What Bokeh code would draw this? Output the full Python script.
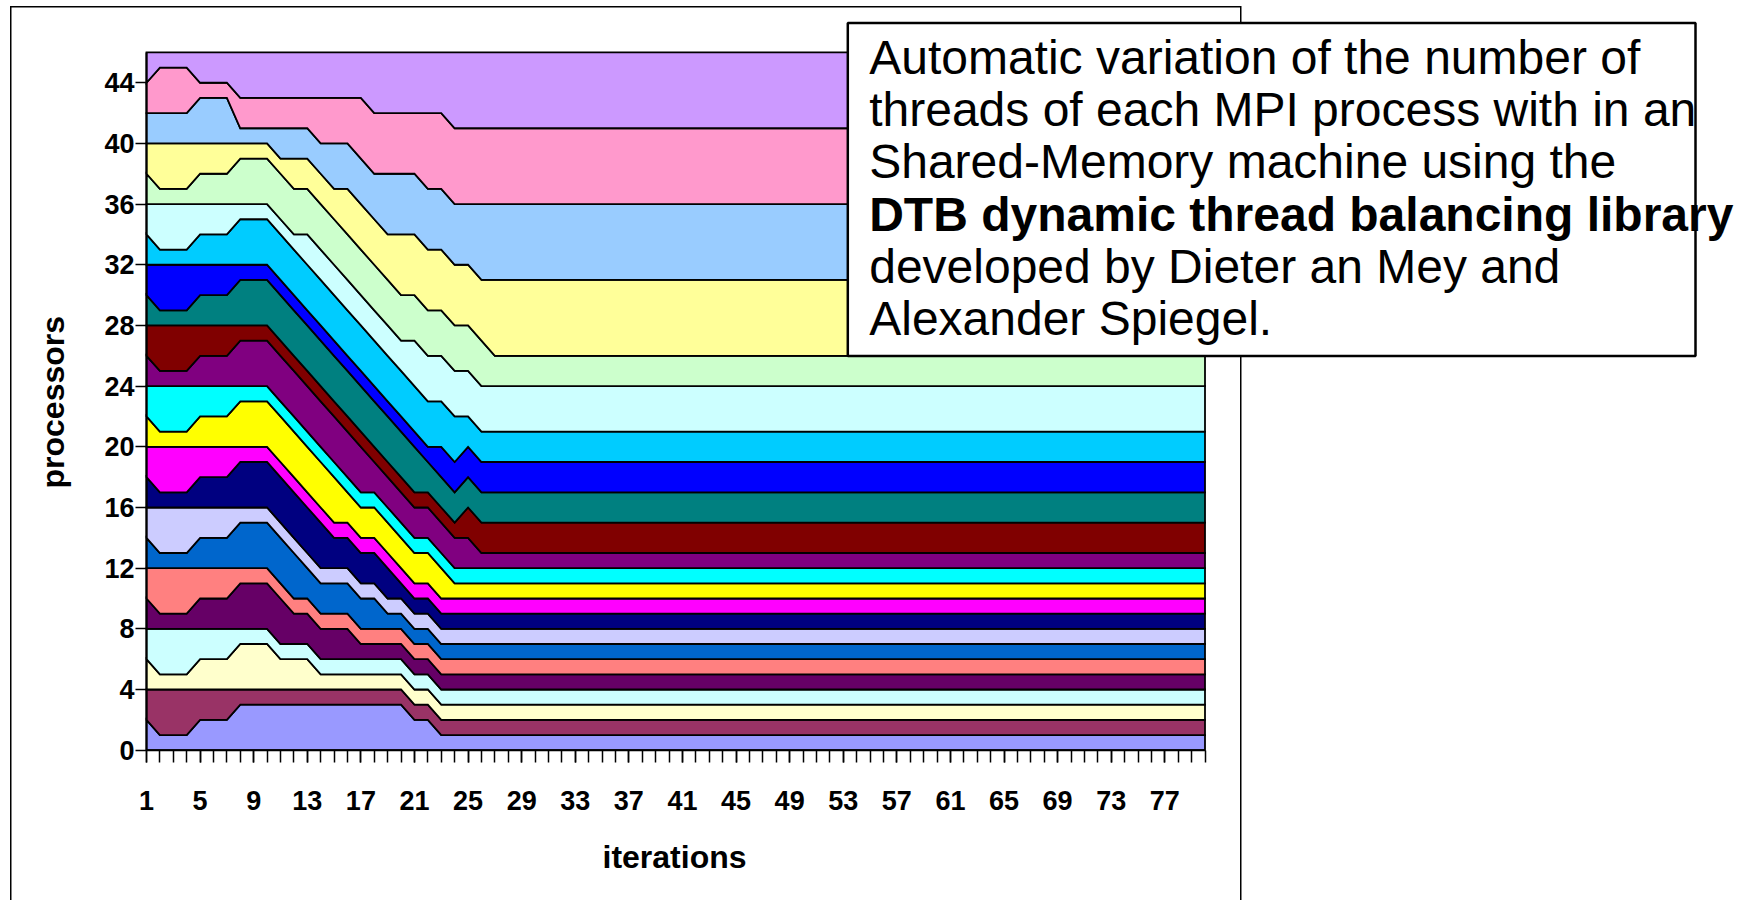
import numpy as np
from bokeh.plotting import figure
from bokeh.models import Range1d, FixedTicker, BoxAnnotation, Label, Title
from bokeh.embed import file_html
from bokeh.resources import INLINE

# ---------------- data ----------------
iterations = list(range(1, 81))
x_tick_labels = [1, 5, 9, 13, 17, 21, 25, 29, 33, 37, 41, 45, 49, 53, 57, 61, 65, 69, 73, 77]
y_ticks = [0, 4, 8, 12, 16, 20, 24, 28, 32, 36, 40, 44]
y_axis_max = 46

colors = ["#9999FF", "#993366", "#FFFFCC", "#CCFFFF", "#660066", "#FF8080", "#0066CC",
          "#CCCCFF", "#000080", "#FF00FF", "#FFFF00", "#00FFFF", "#800080", "#800000",
          "#008080", "#0000FF", "#00CCFF", "#CCFFFF", "#CCFFCC", "#FFFF99", "#99CCFF",
          "#FF99CC", "#CC99FF"]

# threads of each MPI process per iteration (stacked bottom -> top)
s1 = [2, 1, 1, 1, 2, 2, 2, 3, 3, 3,
      3, 3, 3, 3, 3, 3, 3, 3, 3, 3,
      2, 2, 1, 1, 1, 1, 1, 1, 1, 1,
      1, 1, 1, 1, 1, 1, 1, 1, 1, 1,
      1, 1, 1, 1, 1, 1, 1, 1, 1, 1,
      1, 1, 1, 1, 1, 1, 1, 1, 1, 1,
      1, 1, 1, 1, 1, 1, 1, 1, 1, 1,
      1, 1, 1, 1, 1, 1, 1, 1, 1, 1]
s2 = [2, 3, 3, 3, 2, 2, 2, 1, 1, 1,
      1, 1, 1, 1, 1, 1, 1, 1, 1, 1,
      1, 1, 1, 1, 1, 1, 1, 1, 1, 1,
      1, 1, 1, 1, 1, 1, 1, 1, 1, 1,
      1, 1, 1, 1, 1, 1, 1, 1, 1, 1,
      1, 1, 1, 1, 1, 1, 1, 1, 1, 1,
      1, 1, 1, 1, 1, 1, 1, 1, 1, 1,
      1, 1, 1, 1, 1, 1, 1, 1, 1, 1]
s3 = [2, 1, 1, 1, 2, 2, 2, 3, 3, 3,
      2, 2, 2, 1, 1, 1, 1, 1, 1, 1,
      1, 1, 1, 1, 1, 1, 1, 1, 1, 1,
      1, 1, 1, 1, 1, 1, 1, 1, 1, 1,
      1, 1, 1, 1, 1, 1, 1, 1, 1, 1,
      1, 1, 1, 1, 1, 1, 1, 1, 1, 1,
      1, 1, 1, 1, 1, 1, 1, 1, 1, 1,
      1, 1, 1, 1, 1, 1, 1, 1, 1, 1]
s4 = [2, 3, 3, 3, 2, 2, 2, 1, 1, 1,
      1, 1, 1, 1, 1, 1, 1, 1, 1, 1,
      1, 1, 1, 1, 1, 1, 1, 1, 1, 1,
      1, 1, 1, 1, 1, 1, 1, 1, 1, 1,
      1, 1, 1, 1, 1, 1, 1, 1, 1, 1,
      1, 1, 1, 1, 1, 1, 1, 1, 1, 1,
      1, 1, 1, 1, 1, 1, 1, 1, 1, 1,
      1, 1, 1, 1, 1, 1, 1, 1, 1, 1]
s5 = [2, 1, 1, 1, 2, 2, 2, 3, 3, 3,
      3, 2, 2, 2, 2, 2, 1, 1, 1, 1,
      1, 1, 1, 1, 1, 1, 1, 1, 1, 1,
      1, 1, 1, 1, 1, 1, 1, 1, 1, 1,
      1, 1, 1, 1, 1, 1, 1, 1, 1, 1,
      1, 1, 1, 1, 1, 1, 1, 1, 1, 1,
      1, 1, 1, 1, 1, 1, 1, 1, 1, 1,
      1, 1, 1, 1, 1, 1, 1, 1, 1, 1]
s6 = [2, 3, 3, 3, 2, 2, 2, 1, 1, 1,
      1, 1, 1, 1, 1, 1, 1, 1, 1, 1,
      1, 1, 1, 1, 1, 1, 1, 1, 1, 1,
      1, 1, 1, 1, 1, 1, 1, 1, 1, 1,
      1, 1, 1, 1, 1, 1, 1, 1, 1, 1,
      1, 1, 1, 1, 1, 1, 1, 1, 1, 1,
      1, 1, 1, 1, 1, 1, 1, 1, 1, 1,
      1, 1, 1, 1, 1, 1, 1, 1, 1, 1]
s7 = [2, 1, 1, 1, 2, 2, 2, 3, 3, 3,
      3, 3, 2, 2, 2, 2, 2, 2, 1, 1,
      1, 1, 1, 1, 1, 1, 1, 1, 1, 1,
      1, 1, 1, 1, 1, 1, 1, 1, 1, 1,
      1, 1, 1, 1, 1, 1, 1, 1, 1, 1,
      1, 1, 1, 1, 1, 1, 1, 1, 1, 1,
      1, 1, 1, 1, 1, 1, 1, 1, 1, 1,
      1, 1, 1, 1, 1, 1, 1, 1, 1, 1]
s8 = [2, 3, 3, 3, 2, 2, 2, 1, 1, 1,
      1, 1, 1, 1, 1, 1, 1, 1, 1, 1,
      1, 1, 1, 1, 1, 1, 1, 1, 1, 1,
      1, 1, 1, 1, 1, 1, 1, 1, 1, 1,
      1, 1, 1, 1, 1, 1, 1, 1, 1, 1,
      1, 1, 1, 1, 1, 1, 1, 1, 1, 1,
      1, 1, 1, 1, 1, 1, 1, 1, 1, 1,
      1, 1, 1, 1, 1, 1, 1, 1, 1, 1]
s9 = [2, 1, 1, 1, 2, 2, 2, 3, 3, 3,
      3, 3, 3, 3, 2, 2, 2, 2, 2, 1,
      1, 1, 1, 1, 1, 1, 1, 1, 1, 1,
      1, 1, 1, 1, 1, 1, 1, 1, 1, 1,
      1, 1, 1, 1, 1, 1, 1, 1, 1, 1,
      1, 1, 1, 1, 1, 1, 1, 1, 1, 1,
      1, 1, 1, 1, 1, 1, 1, 1, 1, 1,
      1, 1, 1, 1, 1, 1, 1, 1, 1, 1]
s10 = [2, 3, 3, 3, 2, 2, 2, 1, 1, 1,
       1, 1, 1, 1, 1, 1, 1, 1, 1, 1,
       1, 1, 1, 1, 1, 1, 1, 1, 1, 1,
       1, 1, 1, 1, 1, 1, 1, 1, 1, 1,
       1, 1, 1, 1, 1, 1, 1, 1, 1, 1,
       1, 1, 1, 1, 1, 1, 1, 1, 1, 1,
       1, 1, 1, 1, 1, 1, 1, 1, 1, 1,
       1, 1, 1, 1, 1, 1, 1, 1, 1, 1]
s11 = [2, 1, 1, 1, 2, 2, 2, 3, 3, 3,
       3, 3, 3, 3, 3, 2, 2, 2, 2, 2,
       2, 2, 2, 1, 1, 1, 1, 1, 1, 1,
       1, 1, 1, 1, 1, 1, 1, 1, 1, 1,
       1, 1, 1, 1, 1, 1, 1, 1, 1, 1,
       1, 1, 1, 1, 1, 1, 1, 1, 1, 1,
       1, 1, 1, 1, 1, 1, 1, 1, 1, 1,
       1, 1, 1, 1, 1, 1, 1, 1, 1, 1]
s12 = [2, 3, 3, 3, 2, 2, 2, 1, 1, 1,
       1, 1, 1, 1, 1, 1, 1, 1, 1, 1,
       1, 1, 1, 1, 1, 1, 1, 1, 1, 1,
       1, 1, 1, 1, 1, 1, 1, 1, 1, 1,
       1, 1, 1, 1, 1, 1, 1, 1, 1, 1,
       1, 1, 1, 1, 1, 1, 1, 1, 1, 1,
       1, 1, 1, 1, 1, 1, 1, 1, 1, 1,
       1, 1, 1, 1, 1, 1, 1, 1, 1, 1]
s13 = [2, 1, 1, 1, 2, 2, 2, 3, 3, 3,
       3, 3, 3, 3, 3, 3, 3, 2, 2, 2,
       2, 2, 2, 2, 2, 1, 1, 1, 1, 1,
       1, 1, 1, 1, 1, 1, 1, 1, 1, 1,
       1, 1, 1, 1, 1, 1, 1, 1, 1, 1,
       1, 1, 1, 1, 1, 1, 1, 1, 1, 1,
       1, 1, 1, 1, 1, 1, 1, 1, 1, 1,
       1, 1, 1, 1, 1, 1, 1, 1, 1, 1]
s14 = [2, 3, 3, 3, 2, 2, 2, 1, 1, 1,
       1, 1, 1, 1, 1, 1, 1, 1, 1, 1,
       1, 1, 1, 1, 2, 2, 2, 2, 2, 2,
       2, 2, 2, 2, 2, 2, 2, 2, 2, 2,
       2, 2, 2, 2, 2, 2, 2, 2, 2, 2,
       2, 2, 2, 2, 2, 2, 2, 2, 2, 2,
       2, 2, 2, 2, 2, 2, 2, 2, 2, 2,
       2, 2, 2, 2, 2, 2, 2, 2, 2, 2]
s15 = [2, 1, 1, 1, 2, 2, 2, 3, 3, 3,
       3, 3, 3, 3, 3, 3, 3, 3, 3, 3,
       3, 2, 2, 2, 2, 2, 2, 2, 2, 2,
       2, 2, 2, 2, 2, 2, 2, 2, 2, 2,
       2, 2, 2, 2, 2, 2, 2, 2, 2, 2,
       2, 2, 2, 2, 2, 2, 2, 2, 2, 2,
       2, 2, 2, 2, 2, 2, 2, 2, 2, 2,
       2, 2, 2, 2, 2, 2, 2, 2, 2, 2]
s16 = [2, 3, 3, 3, 2, 2, 2, 1, 1, 1,
       1, 1, 1, 1, 1, 1, 1, 1, 1, 1,
       1, 1, 2, 2, 2, 2, 2, 2, 2, 2,
       2, 2, 2, 2, 2, 2, 2, 2, 2, 2,
       2, 2, 2, 2, 2, 2, 2, 2, 2, 2,
       2, 2, 2, 2, 2, 2, 2, 2, 2, 2,
       2, 2, 2, 2, 2, 2, 2, 2, 2, 2,
       2, 2, 2, 2, 2, 2, 2, 2, 2, 2]
s17 = [2, 1, 1, 1, 2, 2, 2, 3, 3, 3,
       3, 3, 3, 3, 3, 3, 3, 3, 3, 3,
       3, 3, 3, 3, 2, 2, 2, 2, 2, 2,
       2, 2, 2, 2, 2, 2, 2, 2, 2, 2,
       2, 2, 2, 2, 2, 2, 2, 2, 2, 2,
       2, 2, 2, 2, 2, 2, 2, 2, 2, 2,
       2, 2, 2, 2, 2, 2, 2, 2, 2, 2,
       2, 2, 2, 2, 2, 2, 2, 2, 2, 2]
s18 = [2, 3, 3, 3, 2, 2, 2, 1, 1, 1,
       1, 1, 2, 2, 2, 2, 2, 2, 2, 2,
       3, 3, 3, 3, 3, 3, 3, 3, 3, 3,
       3, 3, 3, 3, 3, 3, 3, 3, 3, 3,
       3, 3, 3, 3, 3, 3, 3, 3, 3, 3,
       3, 3, 3, 3, 3, 3, 3, 3, 3, 3,
       3, 3, 3, 3, 3, 3, 3, 3, 3, 3,
       3, 3, 3, 3, 3, 3, 3, 3, 3, 3]
s19 = [2, 1, 1, 1, 2, 2, 2, 3, 3, 3,
       3, 3, 3, 3, 3, 3, 3, 3, 3, 3,
       3, 3, 3, 3, 3, 3, 2, 2, 2, 2,
       2, 2, 2, 2, 2, 2, 2, 2, 2, 2,
       2, 2, 2, 2, 2, 2, 2, 2, 2, 2,
       2, 2, 2, 2, 2, 2, 2, 2, 2, 2,
       2, 2, 2, 2, 2, 2, 2, 2, 2, 2,
       2, 2, 2, 2, 2, 2, 2, 2, 2, 2]
s20 = [2, 3, 3, 3, 2, 2, 2, 1, 1, 1,
       1, 2, 2, 2, 2, 3, 3, 3, 3, 4,
       4, 4, 4, 4, 4, 4, 5, 5, 5, 5,
       5, 5, 5, 5, 5, 5, 5, 5, 5, 5,
       5, 5, 5, 5, 5, 5, 5, 5, 5, 5,
       5, 5, 5, 5, 5, 5, 5, 5, 5, 5,
       5, 5, 5, 5, 5, 5, 5, 5, 5, 5,
       5, 5, 5, 5, 5, 5, 5, 5, 5, 5]
s21 = [2, 2, 2, 2, 3, 3, 3, 1, 1, 1,
       2, 2, 2, 2, 3, 3, 3, 3, 4, 4,
       4, 4, 4, 4, 4, 5, 5, 5, 5, 5,
       5, 5, 5, 5, 5, 5, 5, 5, 5, 5,
       5, 5, 5, 5, 5, 5, 5, 5, 5, 5,
       5, 5, 5, 5, 5, 5, 5, 5, 5, 5,
       5, 5, 5, 5, 5, 5, 5, 5, 5, 5,
       5, 5, 5, 5, 5, 5, 5, 5, 5, 5]
s22 = [2, 3, 3, 3, 1, 1, 1, 2, 2, 2,
       2, 2, 2, 3, 3, 3, 4, 4, 4, 4,
       4, 5, 5, 5, 5, 5, 5, 5, 5, 5,
       5, 5, 5, 5, 5, 5, 5, 5, 5, 5,
       5, 5, 5, 5, 5, 5, 5, 5, 5, 5,
       5, 5, 5, 5, 5, 5, 5, 5, 5, 5,
       5, 5, 5, 5, 5, 5, 5, 5, 5, 5,
       5, 5, 5, 5, 5, 5, 5, 5, 5, 5]
s23 = [2, 1, 1, 1, 2, 2, 2, 3, 3, 3,
       3, 3, 3, 3, 3, 3, 3, 4, 4, 4,
       4, 4, 4, 5, 5, 5, 5, 5, 5, 5,
       5, 5, 5, 5, 5, 5, 5, 5, 5, 5,
       5, 5, 5, 5, 5, 5, 5, 5, 5, 5,
       5, 5, 5, 5, 5, 5, 5, 5, 5, 5,
       5, 5, 5, 5, 5, 5, 5, 5, 5, 5,
       5, 5, 5, 5, 5, 5, 5, 5, 5, 5]

series = [s1, s2, s3, s4, s5, s6, s7, s8, s9, s10, s11, s12, s13, s14, s15, s16,
          s17, s18, s19, s20, s21, s22, s23]
for s in series:
    assert len(s) == len(iterations)

x_title = "iterations"
y_title = "processors"
note_lines = ["Automatic variation of the number of",
              "threads of each MPI process with in an",
              "Shared-Memory machine using the",
              "DTB dynamic thread balancing library",
              "developed by Dieter an Mey and",
              "Alexander Spiegel."]
note_bold = [False, False, False, True, False, False]

# ---------------- layout (pixels) ----------------
W, H = 1736, 900
FL, FB = 144, 752                  # frame: left edge / bottom edge; frame reaches top and right canvas edges
PX_FIRST, PX_LAST = 146.0, 1204.5  # pixel x of first / last iteration
PY_ZERO, PY_MAX = 749.7, 51.9      # pixel y of 0 / y_axis_max
FONT = "Liberation Sans"

x_first, x_last = iterations[0], iterations[-1]
KX = (PX_LAST - PX_FIRST) / (x_last - x_first)
KY = (PY_ZERO - PY_MAX) / y_axis_max


def dx(px):
    return x_first + (px - PX_FIRST) / KX


def dy(py):
    return (PY_ZERO - py) / KY


p = figure(width=W, height=H, output_backend="svg", toolbar_location=None, title=None,
           x_range=Range1d(dx(FL), dx(W)), y_range=Range1d(dy(FB), dy(0)),
           min_border_left=FL, min_border_right=0, min_border_top=0,
           min_border_bottom=H - FB)
p.background_fill_alpha = 0
p.border_fill_alpha = 0
p.outline_line_color = None
p.xgrid.visible = False
p.ygrid.visible = False
# chart-area frame (thin black rectangle behind the canvas) + white page
p.styles = {"background": (
    "linear-gradient(#000,#000) 10px 6px / 1.5px 3000px no-repeat, "
    "linear-gradient(#000,#000) 10px 6px / 1231px 1.5px no-repeat, "
    "linear-gradient(#000,#000) 1240px 6px / 1.5px 3000px no-repeat, #ffffff")}

# stacked areas
x = np.array(iterations, dtype=float)
bottom = np.zeros(len(x))
for vals, col in zip(series, colors):
    top = bottom + np.array(vals, dtype=float)
    xs = np.concatenate([x, x[::-1]])
    ys = np.concatenate([top, bottom[::-1]])
    p.patch(xs, ys, fill_color=col, line_color="black", line_width=1.8, line_join="miter")
    bottom = top

# axis lines (only along the plotted extent)
p.line([x_first, x_last], [y_ticks[0], y_ticks[0]], line_color="black", line_width=2)
p.line([x_first, x_first], [y_ticks[0], y_axis_max], line_color="black", line_width=2)

# axes
for ax in (p.xaxis[0], p.yaxis[0]):
    ax.axis_line_color = None
    ax.major_tick_line_color = "black"
    ax.major_tick_line_width = 1.5
    ax.minor_tick_line_color = "black"
    ax.minor_tick_line_width = 1.5
    ax.major_label_text_font = FONT
    ax.major_label_text_font_style = "bold"
    ax.major_label_text_font_size = "27px"
    ax.major_label_text_color = "black"

p.xaxis.ticker = FixedTicker(ticks=x_tick_labels, minor_ticks=iterations)
p.xaxis.major_tick_in = 2
p.xaxis.minor_tick_in = 2
p.xaxis.major_tick_out = 10
p.xaxis.minor_tick_out = 10
p.xaxis.major_label_standoff = 28

p.yaxis.ticker = FixedTicker(ticks=y_ticks, minor_ticks=[])
p.yaxis.major_tick_in = 2
p.yaxis.major_tick_out = 9
p.yaxis.minor_tick_in = 0
p.yaxis.minor_tick_out = 0
p.yaxis.major_label_standoff = 1

# axis titles placed as side-panel titles so they can sit at the chart's own centre
TITLE_SIZE = 32
p.add_layout(Title(text=x_title, align="left", offset=458, standoff=48,
                   text_font=FONT, text_font_style="bold",
                   text_font_size=f"{TITLE_SIZE}px", text_color="black"), "below")
p.add_layout(Title(text=y_title, align="left", offset=264, standoff=62,
                   text_font=FONT, text_font_style="bold",
                   text_font_size=f"{TITLE_SIZE}px", text_color="black"), "left")

# note box
p.add_layout(BoxAnnotation(left=dx(847.3), right=dx(1695.0), top=dy(22.4), bottom=dy(355.5),
                           fill_color="white", fill_alpha=1.0,
                           line_color="black", line_alpha=1.0, line_width=2.5))
for k, (txt, b) in enumerate(zip(note_lines, note_bold)):
    p.add_layout(Label(x=dx(868.7), y=dy(57.0 + 52.2 * k), text=txt,
                       text_font=FONT, text_font_size="48px",
                       text_font_style="bold" if b else "normal",
                       text_align="left", text_baseline="alphabetic",
                       text_color="black"))

open("out.html", "w").write(file_html(p, INLINE))
